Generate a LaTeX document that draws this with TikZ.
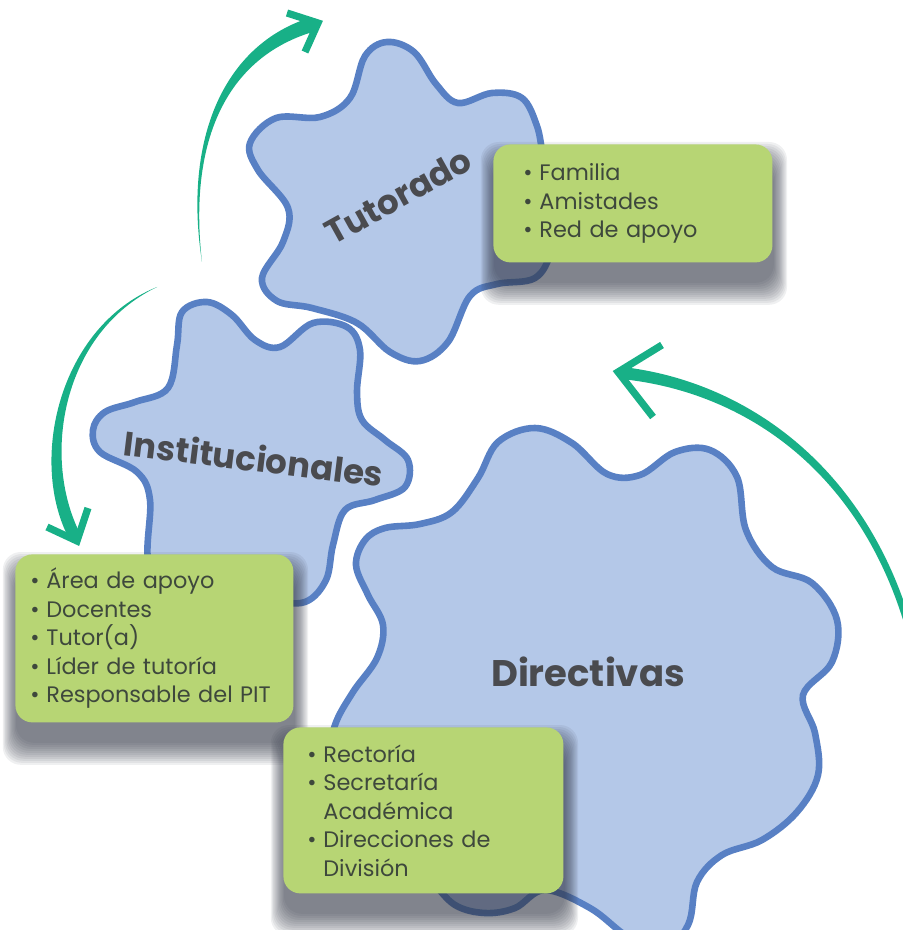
\documentclass[tikz,border=0pt]{standalone}
\usepackage{fontspec}
\setmainfont{Poppins}
\usetikzlibrary{calc}
\definecolor{blobfill}{HTML}{B4C8E8}
\definecolor{blobline}{HTML}{5880C4}
\definecolor{cardfill}{HTML}{B7D574}
\definecolor{cardtext}{HTML}{3E483C}
\definecolor{titletext}{HTML}{4A4B4F}
\definecolor{arrowgreen}{HTML}{18B087}
\definecolor{shadowc}{HTML}{353A48}
\newcommand{\itembul}{\makebox[8pt][l]{\textbullet}}
\pgfdeclarelayer{blobs}
\pgfdeclarelayer{shade}
\pgfsetlayers{blobs,shade,main}

\begin{document}
\begin{tikzpicture}[x=0.5pt,y=-0.5pt,
  blob/.style={draw=blobline,fill=blobfill,line width=3.3pt},
  gearlabel/.style={text=titletext,font=\bfseries\fontsize{17}{20}\selectfont},
  card/.style={fill=cardfill,text=cardtext,rounded corners=8.5pt,anchor=north west,align=left,inner ysep=0pt,font=\fontsize{11.2}{14.25}\selectfont},
  sweep/.style={fill=arrowgreen},
  tips/.style={draw=arrowgreen,line width=3.6pt,line join=miter}]
\useasboundingbox (0,0) rectangle (902,930);

\begin{pgfonlayer}{blobs}
\draw [blob] plot [smooth cycle,tension=0.6] coordinates {(387,42) (414,52) (436,84) (458,103) (492,93) (522,98) (537,126) (545,160) (565,200) (552,250) (535,278) (497,284) (470,296) (448,342) (420,361) (390,352) (357,323) (312,308) (277,301) (262,278) (283,242) (288,208) (258,170) (250,143) (276,118) (320,117) (350,98) (365,56)};
\draw [blob] plot [smooth cycle,tension=0.6] coordinates {(207,302) (232,315) (255,340) (280,347) (313,323) (347,327) (360,350) (357,392) (362,420) (385,440) (408,460) (405,487) (375,500) (345,510) (333,545) (326,580) (305,602) (270,600) (240,590) (200,610) (165,600) (148,560) (150,500) (137,472) (100,452) (93,430) (105,412) (135,402) (168,388) (177,345) (182,312)};
\draw [blob] plot [smooth cycle,tension=0.6] coordinates {(356,565) (365,540) (385,528) (420,524) (452,512) (478,478) (498,442) (535,428) (572,443) (607,474) (640,475) (675,452) (710,450) (737,477) (746,530) (772,567) (812,583) (837,620) (832,662) (803,695) (815,733) (818,775) (797,812) (762,840) (722,855) (697,882) (688,925) (660,955) (625,935) (590,908) (545,890) (515,908) (485,913) (455,905) (430,880) (395,850) (350,800) (330,760) (335,725) (353,692) (377,658) (383,625) (368,595)};
\node (tutorado) [gearlabel,rotate=29] at (398,196) {Tutorado};
\node (institucionales) [gearlabel,rotate=-7] at (254,458) {Institucionales};
\node (directivas) [gearlabel,font=\bfseries\fontsize{18.5}{22}\selectfont] at (588,672) {Directivas};
\end{pgfonlayer}

\coordinate (t1) at (202,262);
\coordinate (t2) at (157,287);
\coordinate (t3) at (927,700);
\fill [sweep] (t1) .. controls (183,140) and (223,44) .. (312,17) -- (316,31) .. controls (227,56) and (188,140) .. (t1) -- cycle;
\fill [sweep] (t2) .. controls (58,327) and (28,463) .. (69.7,539.8) -- (80.3,534.2) .. controls (41,457) and (62,333) .. (t2) -- cycle;
\fill [sweep] (t3) .. controls (899,489) and (761,383) .. (622.8,367) -- (621.2,379) .. controls (759,393) and (891,491) .. (921,700) -- cycle;
\draw [tips] (287,13) -- (318,23) -- (305,52);
\draw [tips] (47,527) -- (77,541) -- (88,508);
\draw [tips] (662,345) -- (618,372) -- (653,417);

\node (tutlist) [card,minimum width=139.5pt,minimum height=59pt,text width=109.5pt,inner xsep=15pt] at (493,144) {\itembul Familia\\\itembul Amistades\\\itembul Red de apoyo};
\node (instlist) [card,minimum width=139pt,minimum height=84pt,text width=124pt,inner xsep=7.5pt] at (15,554) {\itembul Área de apoyo\\\itembul Docentes\\\itembul Tutor(a)\\\itembul Líder de tutoría\\\itembul\mbox{Responsable del PIT}};
\node (dirlist) [card,minimum width=140pt,minimum height=83pt,text width=116pt,inner xsep=12pt] at (283,727) {\itembul Rectoría\\\itembul Secretaría\\\hphantom{\itembul}Académica\\\itembul Direcciones de\\\hphantom{\itembul}División};

\begin{pgfonlayer}{shade}
\foreach \c in {tutlist,instlist,dirlist}
  \foreach \k [evaluate=\k as \e using 2-\k] in {0,...,11}
    \fill [shadowc,opacity=.08,rounded corners=9pt] ([xshift={0.5pt-(\e)*0.6pt},yshift={-10pt-(\e)*1pt}]\c.south west) rectangle ([xshift={0.5pt+(\e)*0.6pt},yshift={-10pt+(\e)*1pt}]\c.north east);
\end{pgfonlayer}
\end{tikzpicture}
\end{document}
